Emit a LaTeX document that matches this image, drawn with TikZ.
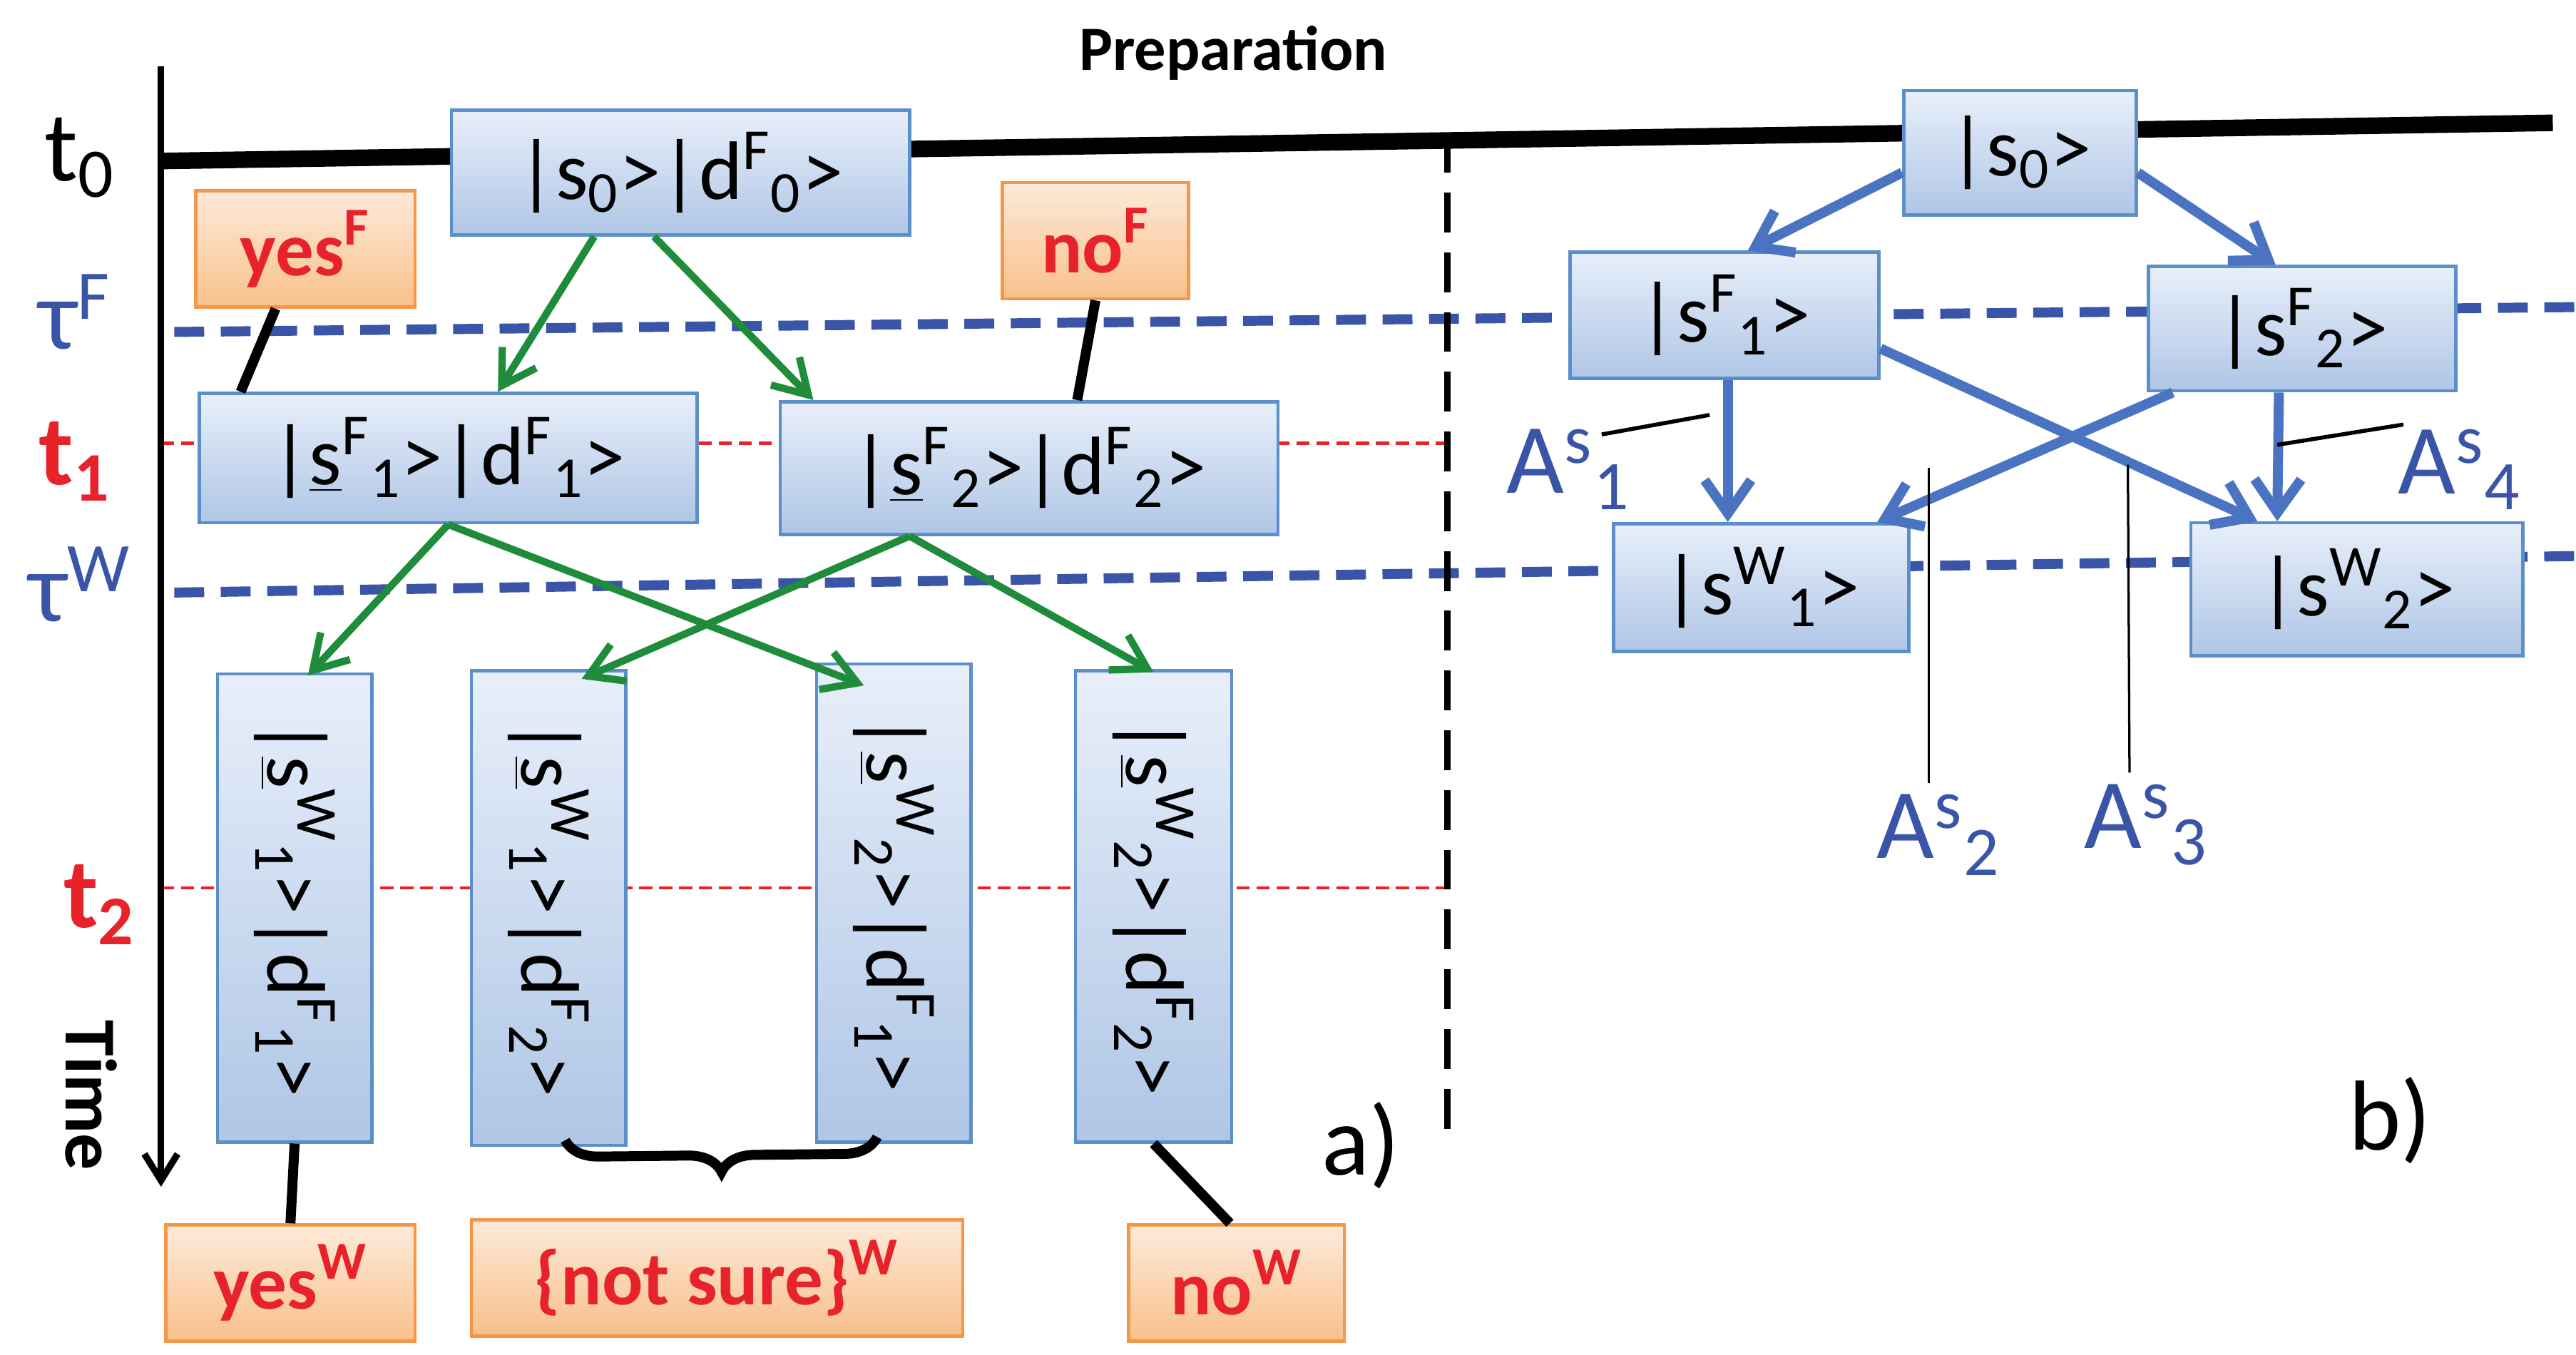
\documentclass[tikz,border=0pt]{standalone}
\usepackage{fontspec}
\setmainfont{Carlito}
\usetikzlibrary{arrows.meta,decorations.pathreplacing}
\definecolor{bfill}{HTML}{E8EFFA}\definecolor{bfill2}{HTML}{AFC6E6}\definecolor{bdraw}{HTML}{5B8FC9}
\definecolor{ofill}{HTML}{FDEADA}\definecolor{ofill2}{HTML}{F8C08A}\definecolor{odraw}{HTML}{F79646}
\definecolor{rtxt}{HTML}{E8222A}\definecolor{btxt}{HTML}{3A55A8}\definecolor{gr}{HTML}{1E8C3A}\definecolor{sb}{HTML}{4A74C2}
\newcommand{\ks}[2]{\textsuperscript{#1}\textsubscript{#2}}
\begin{document}
\begin{tikzpicture}[x=0.5pt,y=-0.5pt,
 box/.style={draw=bdraw,line width=1pt,top color=bfill,bottom color=bfill2,inner sep=0pt,font=\fontsize{25}{30}\selectfont},
 obox/.style={draw=odraw,line width=1pt,top color=ofill,bottom color=ofill2,inner sep=0pt,text=rtxt,font=\fontsize{23}{28}\selectfont\bfseries},
 lab/.style={font=\fontsize{30}{34}\selectfont},
 garr/.style={gr,line width=2.2pt,-{Straight Barb[length=10pt,width=12pt]}},
 barr/.style={sb,line width=3pt,-{Straight Barb[length=10pt,width=14pt]}},
 conn/.style={black,line width=3pt},
 thin/.style={black,line width=0.7pt},
 bdash/.style={btxt,line width=3pt,dash pattern=on 9pt off 5pt},
 rdash/.style={rtxt,line width=1pt,dash pattern=on 4pt off 2pt}]
\useasboundingbox (0,0) rectangle (1552,816);
% lines
\draw[black,line width=5pt] (97,97) -- (1538,74);
\draw[bdash] (105,200) -- (1552,185);
\draw[bdash] (105,357) -- (1552,335);
\draw[rdash] (97,267) -- (870,267);
\draw[rdash] (97,535) -- (870,535);
\draw[black,line width=2pt,dash pattern=on 12pt off 6pt] (872,80) -- (872,690);
\coordinate (ta) at (97,40); \coordinate (tb) at (97,715);
\draw[black,line width=2pt,-{Straight Barb[length=8pt,width=10pt]}] (ta) -- (tb);
\node[rotate=-90,font=\fontsize{22}{26}\selectfont\bfseries] (time) at (55,660) {Time};
\node[font=\fontsize{19}{22}\selectfont\bfseries] (prep) at (743,32) {Preparation};
\node[lab] (t0) at (48,95) {t\textsubscript{0}};
\node[lab,text=btxt] (tf) at (45,188) {τ\textsuperscript{F}};
\node[lab,text=rtxt,font=\fontsize{30}{34}\selectfont\bfseries] (t1) at (45,278) {t\textsubscript{1}};
\node[lab,text=btxt] (tw) at (48,352) {τ\textsuperscript{W}};
\node[lab,text=rtxt,font=\fontsize{30}{34}\selectfont\bfseries] (t2) at (60,545) {t\textsubscript{2}};
% boxes left
\node[box,minimum width=138pt,minimum height=37.5pt] (s0d) at (410,104) {|s\textsubscript{0}>|d\ks{F}{0}>};
\node[box,minimum width=150pt,minimum height=39pt] (f1) at (270,276) {|\underline{s}\ks{F}{1}>|d\ks{F}{1}>};
\node[box,minimum width=150pt,minimum height=40pt] (f2) at (620,282) {|\underline{s}\ks{F}{2}>|d\ks{F}{2}>};
\node[obox,minimum width=66pt,minimum height=35pt] (yf) at (184,150) {yes\textsuperscript{F}};
\node[obox,minimum width=56pt,minimum height=35pt] (nf) at (660,145) {no\textsuperscript{F}};
\node[box,rotate=-90,minimum width=141pt,minimum height=46.5pt] (v1) at (177.5,547) {|\underline{s}\ks{W}{1}>|d\ks{F}{1}>};
\node[box,rotate=-90,minimum width=143pt,minimum height=46.5pt] (v2) at (330.5,547) {|\underline{s}\ks{W}{1}>|d\ks{F}{2}>};
\node[box,rotate=-90,minimum width=144pt,minimum height=46.5pt] (v3) at (538.5,544) {|\underline{s}\ks{W}{2}>|d\ks{F}{1}>};
\node[box,rotate=-90,minimum width=142pt,minimum height=47pt] (v4) at (695,546) {|\underline{s}\ks{W}{2}>|d\ks{F}{2}>};
\node[obox,minimum width=75pt,minimum height=35pt] (yw) at (175,773) {yes\textsuperscript{W}};
\node[obox,minimum width=148pt,minimum height=35pt] (ns) at (432,770) {\{not sure\}\textsuperscript{W}};
\node[obox,minimum width=65pt,minimum height=35pt] (nw) at (745,773) {no\textsuperscript{W}};
% connectors left
\draw[conn] ([xshift=-9pt]yf.south) -- ([xshift=13pt]f1.north west);
\draw[conn] (nf.south) -- ([xshift=-61pt]f2.north east);
\draw[conn] (v1.east) -- (yw.north);
\draw[conn] (v4.east) -- ([xshift=-2pt]nw.north);
\draw[conn,decorate,decoration={brace,mirror,amplitude=10pt}] ([xshift=5pt,yshift=2pt]v2.east) -- ([xshift=-5pt,yshift=2pt]v3.east);
\draw[garr] ([xshift=-26pt]s0d.south) -- ([xshift=15pt]f1.north);
\draw[garr] ([xshift=-8pt]s0d.south) -- ([xshift=-65pt]f2.north);
\draw[garr] (f1.south) -- ([xshift=4pt,yshift=-1pt]v1.west);
\draw[garr] (f1.south) -- ([xshift=-9pt,yshift=-7pt]v3.west);
\draw[garr] ([xshift=-36pt]f2.south) -- ([xshift=10pt,yshift=-3pt]v2.west);
\draw[garr] ([xshift=-36pt]f2.south) -- ([yshift=-1pt]v4.west);
\node[font=\fontsize{30}{34}\selectfont] (la) at (820,690) {a)};
\node[font=\fontsize{30}{34}\selectfont] (lb) at (1440,675) {b)};
% right
\node[box,minimum width=70pt,minimum height=37.5pt] (r0) at (1217,92) {|s\textsubscript{0}>};
\node[box,minimum width=93pt,minimum height=38pt] (r1) at (1039,190) {|s\ks{F}{1}>};
\node[box,minimum width=92.5pt,minimum height=37.5pt] (r2) at (1387,198) {|s\ks{F}{2}>};
\node[box,minimum width=89pt,minimum height=38.5pt] (w1) at (1061,354) {|s\ks{W}{1}>};
\node[box,minimum width=100pt,minimum height=40pt] (w2) at (1420,355) {|s\ks{W}{2}>};
\draw[barr] ([yshift=-6pt]r0.west) -- ([xshift=7pt]r1.north);
\draw[barr] ([yshift=-6pt]r0.east) -- ([xshift=-8pt]r2.north);
\draw[barr] ([xshift=1pt]r1.south) -- ([xshift=-10pt]w1.north);
\draw[barr] ([yshift=-10pt]r1.east) -- ([xshift=-30pt]w2.north);
\draw[barr] ([xshift=-39pt]r2.south) -- ([xshift=-10pt]w1.north east);
\draw[barr] ([xshift=-7pt]r2.south) -- ([xshift=-24pt]w2.north);
\node[lab,text=btxt] (a1) at (945,283) {A\ks{s}{1}};
\node[lab,text=btxt] (a4) at (1482,283) {A\ks{s}{4}};
\node[lab,text=btxt] (a2) at (1168,503) {A\ks{s}{2}};
\node[lab,text=btxt] (a3) at (1293,497) {A\ks{s}{3}};
\coordinate (c1) at (1030,250); \coordinate (c4) at (1372,268);
\coordinate (c2) at (1162,282); \coordinate (c3) at (1282,280);
\draw[thin,line width=1.2pt] ([xshift=10pt,yshift=-5pt]a1.north) -- (c1);
\draw[thin,line width=1.2pt] ([xshift=-17pt,yshift=-2pt]a4.north) -- (c4);
\draw[thin] ([xshift=-3pt]a2.north) -- (c2);
\draw[thin] ([xshift=-5pt]a3.north) -- (c3);
\end{tikzpicture}
\end{document}
